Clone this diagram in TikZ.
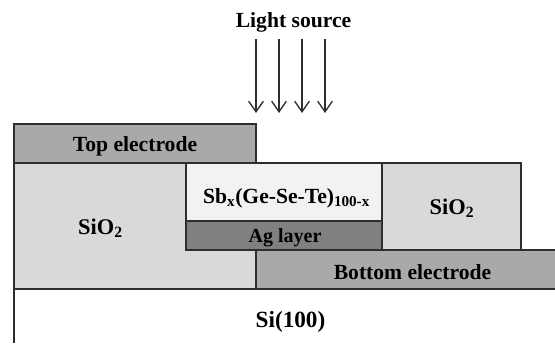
\documentclass[tikz,border=0pt]{standalone}
\usepackage{fontspec}
\setmainfont{Liberation Serif}
\usepackage{xcolor}
\usetikzlibrary{positioning,arrows.meta}
\definecolor{lyink}{HTML}{2E2E2E}
\definecolor{lyelectrode}{HTML}{A9A9A9}
\definecolor{lyoxide}{HTML}{D9D9D9}
\definecolor{lyfilm}{HTML}{F2F2F2}
\definecolor{lysilver}{HTML}{808080}
\begin{document}
\begin{tikzpicture}[
  x=0.75pt, y=-0.75pt,
  font=\fontsize{16.2}{18}\selectfont\bfseries,
  layer/.style={draw=lyink, line width=1pt, outer sep=0pt, inner sep=0pt, anchor=north west},
  label/.style={text=black, inner sep=0pt},
  ray/.style={-{Straight Barb[length=8pt,width=11pt]}, line width=1pt, lyink},
  ]
  \useasboundingbox (0,0) rectangle (555,343);

  % stack, bottom layers first
  \node[layer, fill=lyoxide, minimum width=181.5pt, minimum height=94.5pt] (oxl) at (14,163) {};
  \node[layer, fill=lyelectrode, minimum width=181.5pt, minimum height=29.25pt, above=0pt of oxl.north west, anchor=south west] (top) {};
  \node[layer, fill=lyfilm, minimum width=147pt, minimum height=43.5pt] (film) at (186,163) {};
  \node[layer, fill=lysilver, minimum width=147pt, minimum height=21.75pt, below=0pt of film.south west, anchor=north west] (ag) {};
  \node[layer, fill=lyoxide, minimum width=104.25pt, minimum height=65.25pt, right=0pt of film.north east, anchor=north west] (oxr) {};
  \node[layer, fill=lyelectrode, minimum width=226pt, minimum height=29.25pt] (bot) at (256,250) {};
  \node[anchor=north west, inner sep=0pt, outer sep=0pt, minimum width=405.75pt, minimum height=40.5pt] (si) at (14,289) {};
  \draw[lyink, line width=1pt] (si.south west) -- (si.north west) -- (si.north east);

  % texts
  \node[label] (ttop) at (135,146.5) {Top electrode};
  \node[label, font=\fontsize{16.8}{18}\selectfont\bfseries] (toxl) at (100.5,228) {SiO\textsubscript{2}};
  \node[label] (tfilm) at (286.5,198) {Sb\textsubscript{x}(Ge-Se-Te)\textsubscript{100-x}};
  \node[label, font=\fontsize{15}{17}\selectfont\bfseries] (tag) at (285,238) {Ag layer};
  \node[label, font=\fontsize{16.8}{18}\selectfont\bfseries] (toxr) at (452,208) {SiO\textsubscript{2}};
  \node[label] (tbot) at (412.5,272.5) {Bottom electrode};
  \node[label, font=\fontsize{17.4}{19}\selectfont\bfseries] (tsi) at (290.5,321.5) {Si(100)};
  \node[label] (light) at (293.5,22.5) {Light source};

  % light rays
  \foreach \i/\xx in {1/256,2/279,3/302,4/325}{
    \coordinate (rs\i) at (\xx,39);
    \coordinate (re\i) at (\xx,113);
    \draw[ray] (rs\i) -- (re\i);
  }
\end{tikzpicture}
\end{document}
